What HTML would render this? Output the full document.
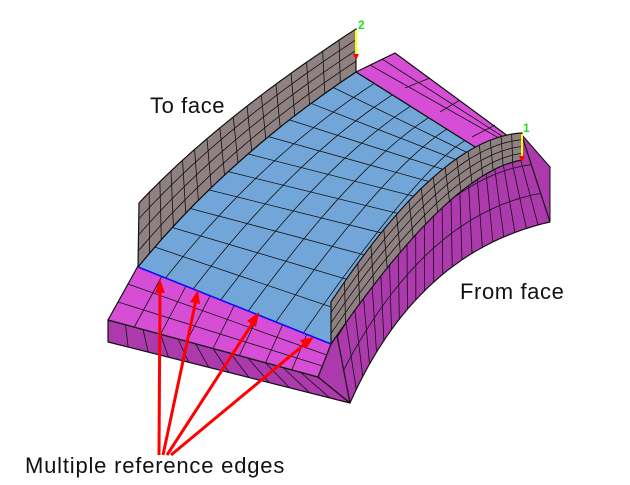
<!DOCTYPE html>
<html><head><meta charset="utf-8"><style>
html,body{margin:0;padding:0;background:#fff;width:630px;height:485px;overflow:hidden}
svg{display:block}
text{font-family:"Liberation Sans",sans-serif}
.lb{font-size:22px;letter-spacing:0.6px;fill:#111}
</style></head><body>
<svg id="s" width="630" height="485" viewBox="0 0 630 485" xmlns="http://www.w3.org/2000/svg">
<g id="g" stroke="#111" stroke-width="1" stroke-linejoin="round"></g>
<text x="150" y="113" class="lb">To face</text>
<text x="460" y="299" class="lb">From face</text>
<text x="25" y="473" class="lb" style="letter-spacing:0.8px">Multiple reference edges</text>
<text x="358" y="29" font-size="12" font-weight="bold" fill="#22dd22">2</text>
<text x="523" y="132" font-size="12" font-weight="bold" fill="#22dd22">1</text>
<line x1="356" y1="30" x2="356" y2="54" stroke="#ffff00" stroke-width="2"/>
<line x1="522" y1="134" x2="522" y2="156" stroke="#ffff00" stroke-width="2"/>
<polygon points="353,54 359,54 356,60" fill="red"/>
<polygon points="519,156 525,156 522,162" fill="red"/>
<line x1="138" y1="267" x2="331" y2="344" stroke="#1010ff" stroke-width="1.6"/>
<g stroke="red" stroke-width="3" fill="red">
<line x1="159" y1="455" x2="160" y2="290"/>
<line x1="163" y1="455" x2="196" y2="300"/>
<line x1="167" y1="455" x2="254" y2="321"/>
<line x1="171" y1="455" x2="306" y2="343"/>
</g>
<g fill="red">
<polygon points="160,279 155,293 165,293"/>
<polygon points="198,290 190,302 200,304"/>
<polygon points="259,312 247,321 256,327"/>
<polygon points="314,337 300,340 306,349"/>
</g>
</svg>
<script>
var g=document.getElementById('g'),NS='http://www.w3.org/2000/svg';
function q(a,c,b,t){var m=1-t;return [m*m*a[0]+2*m*t*c[0]+t*t*b[0],m*m*a[1]+2*m*t*c[1]+t*t*b[1]];}
function L(a,b,t){return [a[0]+(b[0]-a[0])*t,a[1]+(b[1]-a[1])*t];}
function el(n,at){var e=document.createElementNS(NS,n);for(var k in at)e.setAttribute(k,at[k]);g.appendChild(e);return e;}
function curve(a,c,b,n){var p=[];for(var i=0;i<=n;i++)p.push(q(a,c,b,i/n));return p;}
function poly(pts,fill,sw){el('polygon',{points:pts.map(function(p){return p[0].toFixed(1)+','+p[1].toFixed(1)}).join(' '),fill:fill,'stroke-width':sw||1});}
function line(a,b,w){el('line',{x1:a[0],y1:a[1],x2:b[0],y2:b[1],'stroke-width':w||0.8});}
function surf(A,B,fill,nu,nv,N){
 var a=curve(A[0],A[1],A[2],N),b=curve(B[0],B[1],B[2],N);
 poly(a.concat(b.slice().reverse()),fill,1.2);
 for(var i=1;i<nv;i++){var t=i/nv;line(q(A[0],A[1],A[2],t),q(B[0],B[1],B[2],t));}
 for(var j=1;j<nu;j++){var u=j/nu,pts=[];for(var i=0;i<=N;i++){var t=i/N;pts.push(L(q(A[0],A[1],A[2],t),q(B[0],B[1],B[2],t),u));}
  el('polyline',{points:pts.map(function(p){return p.join(',')}).join(' '),fill:'none','stroke-width':0.8});}
}
// magenta top strip back
poly([[356,72],[395,53],[550,167],[522,160],[483,152]],'#d64ed6',1.2);
line([370,65],[520,150]);line([382,59],[536,158]);
line([430,78],[405,88]);line([460,100],[440,112]);line([495,125],[472,137]);
// right dark face
poly([[522,135],[550,167],[550,222],[522,170]],'#ad3aad',1);
poly([[331,302],[350,403],[318,377],[331,344]],'#ad3aad',1);
surf([[522,136],[440,140],[331,304]],[[550,222],[417,252],[350,403]],'#ad3aad',3,22,30);
// front slab front face
poly([[108,320],[318,377],[350,403],[108,342]],'#ad3aad',1.2);
for(var i=1;i<12;i++){var t=i/12;var a=L([108,320],[318,377],t),b=L([108,342],[350,403],t);line(a,b);}
line([318,377],[350,403]);
// front slab top face
poly([[138,266],[331,344],[318,377],[108,320]],'#d64ed6',1.2);
for(var i=1;i<3;i++){var t=i/3;line(L([138,266],[108,320],t),L([331,344],[318,377],t));}
for(var i=1;i<8;i++){var t=i/8;line(L([138,266],[331,344],t),L([108,320],[318,377],t));}
// blue surface
surf([[356,72],[229,156],[138,267]],[[483,152],[449,172],[331,344]],'#72a6d8',7,11,30);
// left gray wall
surf([[356,29],[219,118],[139,203]],[[356,72],[229,156],[138,267]],'#8f8181',4,16,30);
// right gray wall
surf([[522,133],[440,137],[331,302]],[[522,160],[449,172],[331,344]],'#8f8181',4,16,30);
</script>
</body></html>
